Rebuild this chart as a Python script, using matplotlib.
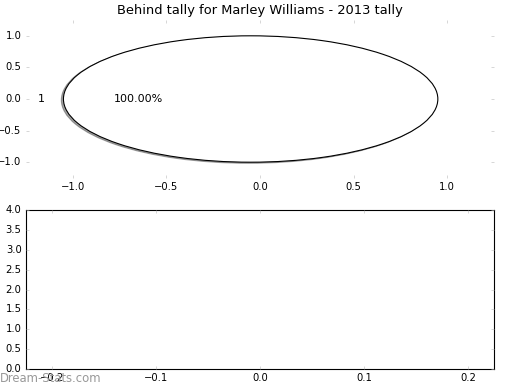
import matplotlib
matplotlib.use("Agg")
import matplotlib.pyplot as plt

# data
slice_labels = ["1"]
slice_values = [1]
slice_explode = [0.05]
bar_values = []
title = "Behind tally for Marley Williams - 2013 tally"

plt.style.use("classic")
plt.rcParams["font.family"] = "DejaVu Sans"
plt.rcParams["font.size"] = 10

fig = plt.figure(figsize=(6.5, 4.875), dpi=80, facecolor="white")

tick_gray = "#b8b8b8"

# top: pie chart
ax1 = fig.add_axes([0.05, 0.5436, 0.900, 0.4051])
ax1.pie(slice_values, labels=slice_labels, explode=slice_explode,
        colors=["white"], autopct="%1.2f%%",
        shadow={"ox": -0.01, "oy": -0.015},
        wedgeprops=dict(edgecolor="black", linewidth=1))
ax1.set_aspect("auto")
ax1.set_xlim(-1.25, 1.25)
ax1.set_ylim(-1.25, 1.25)
ax1.set_xticks([-1.0, -0.5, 0.0, 0.5, 1.0])
ax1.set_yticks([-1.0, -0.5, 0.0, 0.5, 1.0])
for s in ax1.spines.values():
    s.set_visible(False)
ax1.tick_params(color=tick_gray, labelsize=9, direction="in", length=3,
                top=True, right=True)
ax1.set_title(title, fontsize=11.7)

# bottom: empty bar axes
ax2 = fig.add_axes([0.05, 0.0538, 0.900, 0.4077])
ax2.bar(range(len(bar_values)), bar_values)
ax2.set_xlim(-0.225, 0.225)
ax2.set_ylim(0, 4)
ax2.set_xticks([-0.2, -0.1, 0.0, 0.1, 0.2])
ax2.set_yticks([0.0, 0.5, 1.0, 1.5, 2.0, 2.5, 3.0, 3.5, 4.0])
ax2.tick_params(color=tick_gray, labelsize=9, direction="in", length=3,
                top=True, right=True)

fig.text(0.0, 0.012, "Dream-Stats.com", color="#999999", fontsize=10.5,
         ha="left", va="bottom")

fig.savefig("out.png", dpi=80, facecolor="white")
